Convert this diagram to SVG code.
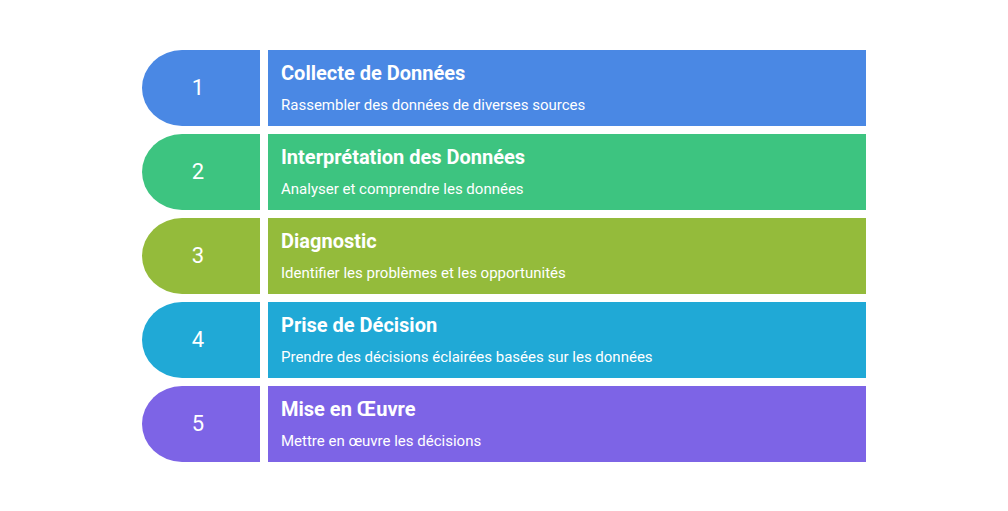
<svg xmlns="http://www.w3.org/2000/svg" width="1008" height="511" viewBox="0 0 1008 511">
<style>
.num{font-family:Roboto,"Liberation Sans",sans-serif;font-size:22px;fill:#fff;text-anchor:middle}
.t{font-family:Roboto,"Liberation Sans",sans-serif;font-size:20px;font-weight:700;fill:#fff}
.s{font-family:Roboto,"Liberation Sans",sans-serif;font-size:15px;font-weight:400;fill:#fff}
</style>
<rect width="1008" height="511" fill="#fff"/>
<g id="step1" fill="#4A88E4">
<path d="M182,50 H260 V126 H182 A40,38 0 0 1 182,50 Z"/>
<rect x="268" y="50" width="598" height="76"/>
<text class="num" x="198" y="95">1</text>
<text class="t" x="281" y="80">Collecte de Données</text>
<text class="s" x="281" y="110">Rassembler des données de diverses sources</text>
</g>
<g id="step2" fill="#3DC480">
<path d="M182,134 H260 V210 H182 A40,38 0 0 1 182,134 Z"/>
<rect x="268" y="134" width="598" height="76"/>
<text class="num" x="198" y="179">2</text>
<text class="t" x="281" y="164">Interprétation des Données</text>
<text class="s" x="281" y="194">Analyser et comprendre les données</text>
</g>
<g id="step3" fill="#94BB3B">
<path d="M182,218 H260 V294 H182 A40,38 0 0 1 182,218 Z"/>
<rect x="268" y="218" width="598" height="76"/>
<text class="num" x="198" y="263">3</text>
<text class="t" x="281" y="248">Diagnostic</text>
<text class="s" x="281" y="278">Identifier les problèmes et les opportunités</text>
</g>
<g id="step4" fill="#20A9D6">
<path d="M182,302 H260 V378 H182 A40,38 0 0 1 182,302 Z"/>
<rect x="268" y="302" width="598" height="76"/>
<text class="num" x="198" y="347">4</text>
<text class="t" x="281" y="332">Prise de Décision</text>
<text class="s" x="281" y="362">Prendre des décisions éclairées basées sur les données</text>
</g>
<g id="step5" fill="#7D64E6">
<path d="M182,386 H260 V462 H182 A40,38 0 0 1 182,386 Z"/>
<rect x="268" y="386" width="598" height="76"/>
<text class="num" x="198" y="431">5</text>
<text class="t" x="281" y="416">Mise en Œuvre</text>
<text class="s" x="281" y="446">Mettre en œuvre les décisions</text>
</g>
<g id="connectors"/>
</svg>
